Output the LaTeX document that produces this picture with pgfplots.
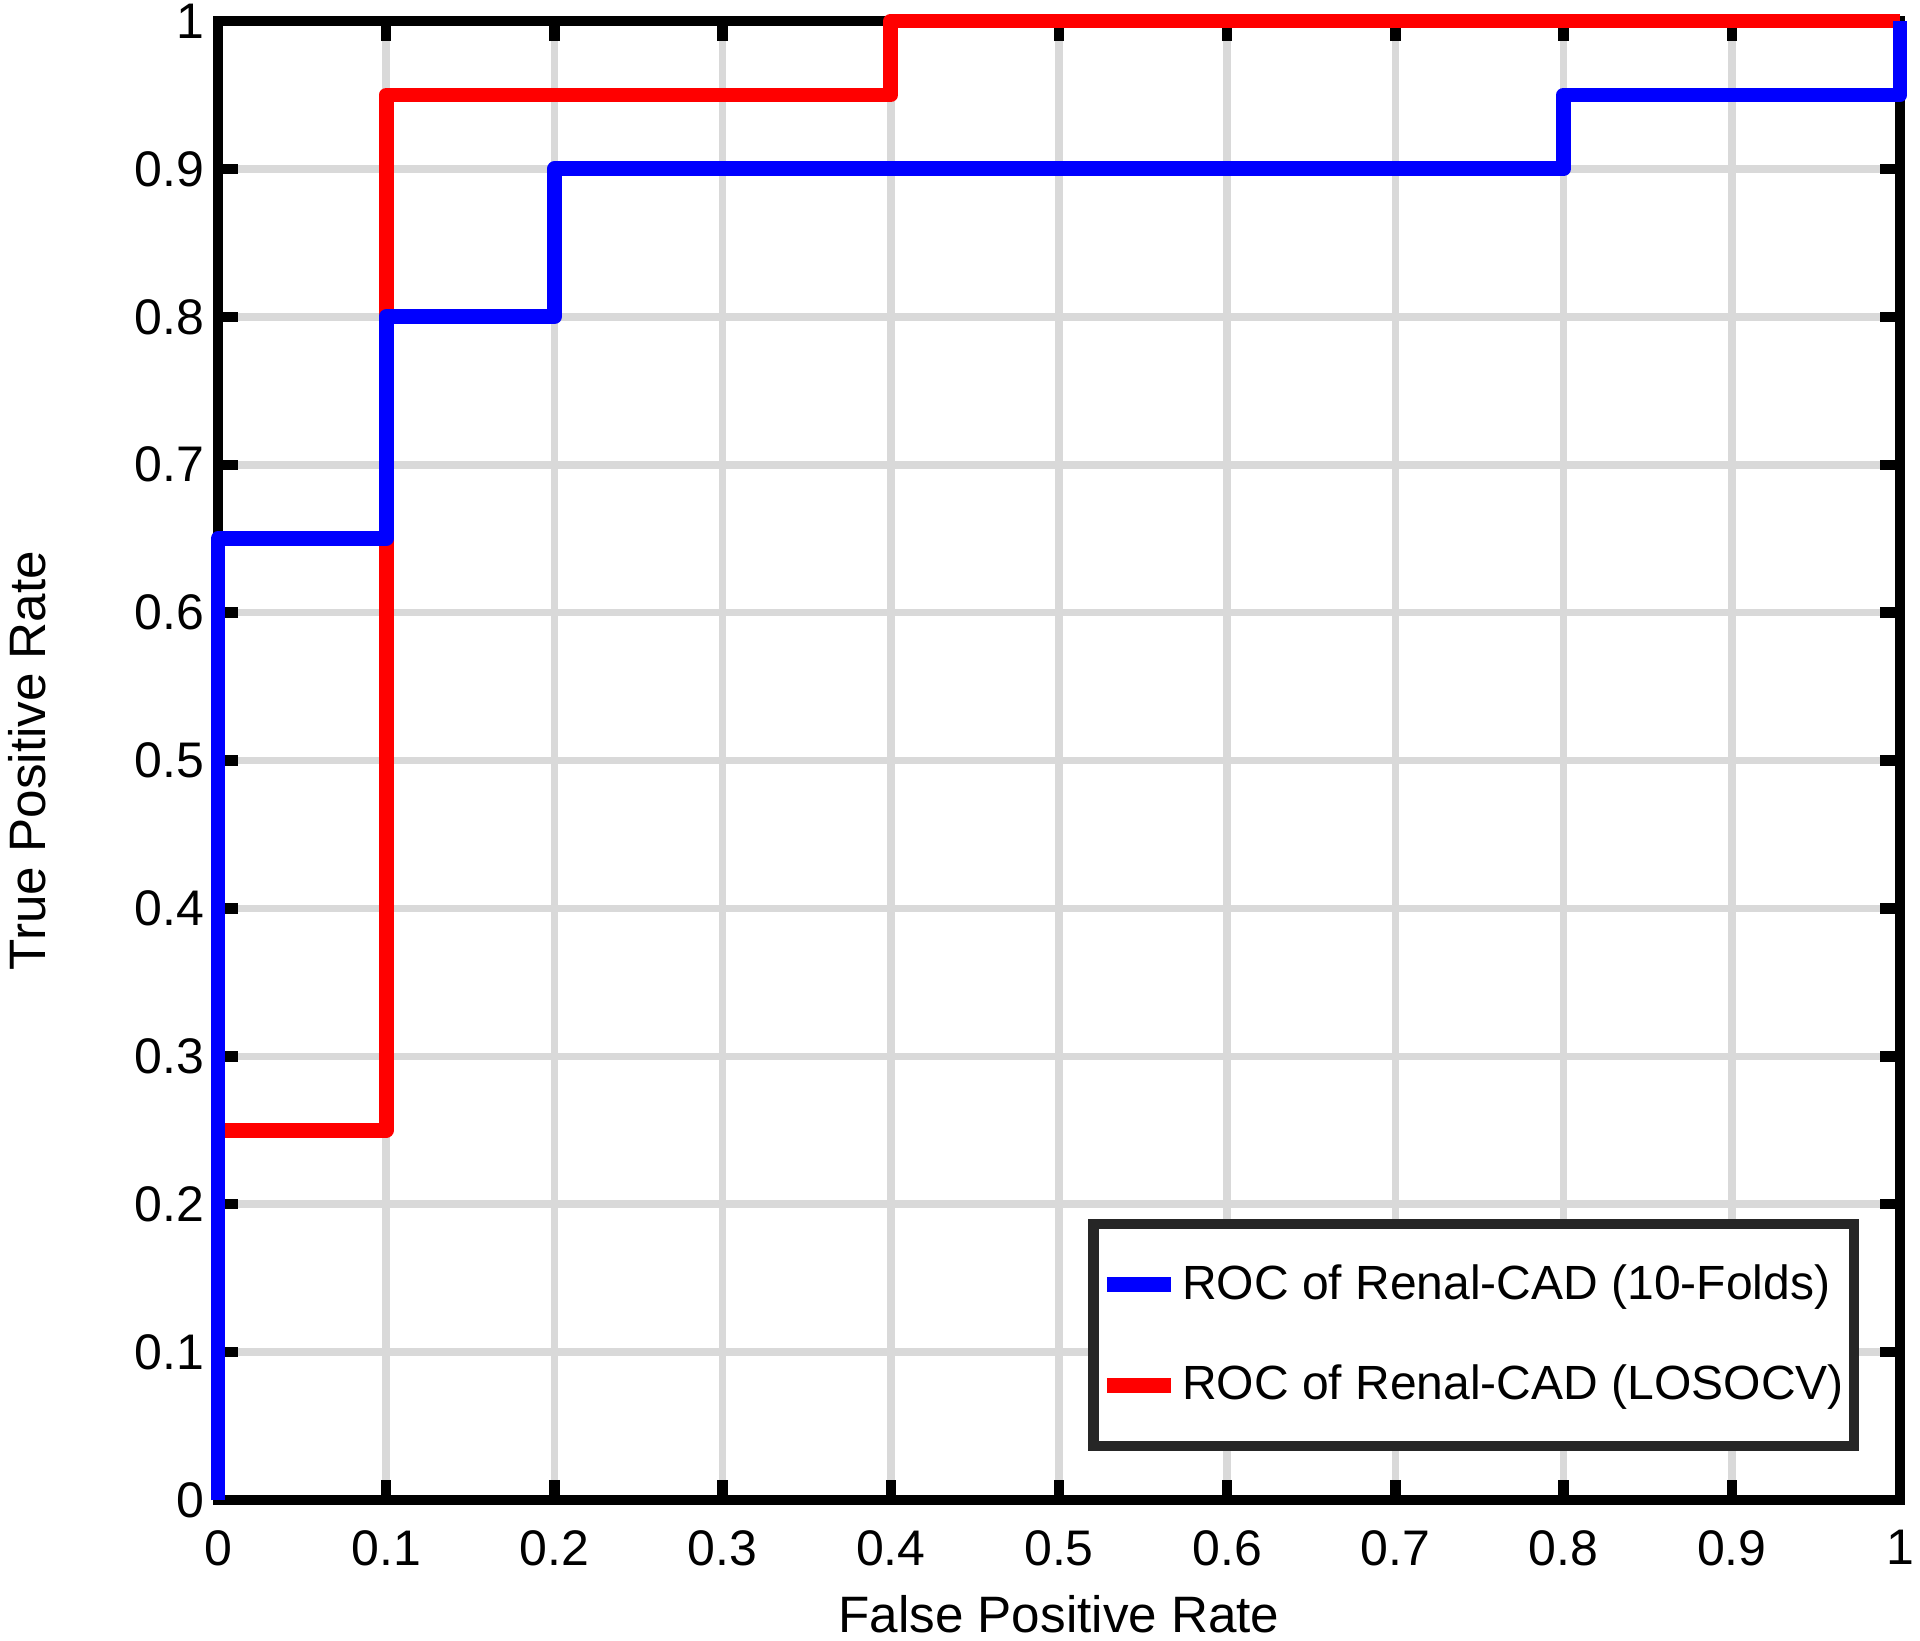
\documentclass[border=0pt]{standalone}
\usepackage{fontspec}
\setmainfont{Liberation Sans}
\usepackage{pgfplots}
\pgfplotsset{compat=1.18}
\definecolor{gridgray}{RGB}{217,217,217}
\definecolor{legframe}{RGB}{38,38,38}
\begin{document}
\begin{tikzpicture}
\begin{axis}[
  at={(0pt,0pt)}, anchor=south west,
  scale only axis, width=420.5pt, height=369.75pt,
  xmin=0, xmax=1, ymin=0, ymax=1,
  xtick={0,0.1,0.2,0.3,0.4,0.5,0.6,0.7,0.8,0.9,1},
  ytick={0,0.1,0.2,0.3,0.4,0.5,0.6,0.7,0.8,0.9,1},
  xticklabels={0,0.1,0.2,0.3,0.4,0.5,0.6,0.7,0.8,0.9,1},
  yticklabels={0,0.1,0.2,0.3,0.4,0.5,0.6,0.7,0.8,0.9,1},
  tick pos=both, ticklabel pos=left,
  tick align=inside,
  major tick length=5pt,
  tick style={black, line width=2.6pt},
  axis line style={black, line width=2.6pt},
  grid=major, grid style={gridgray, line width=1.9pt},
  ticklabel style={font=\fontsize{12.5}{14}\selectfont},
  xticklabel style={yshift=-4pt},
  xlabel={False Positive Rate}, ylabel={True Positive Rate},
  label style={font=\fontsize{12.8}{15}\selectfont},
  xlabel style={at={(axis description cs:0.5,-0.0771)}, anchor=center},
  ylabel style={at={(axis description cs:-0.1136,0.5)}, anchor=center},
  clip=false,
  reverse legend,
  legend cell align=left,
  legend style={at={(axis description cs:0.9756,0.0331)}, anchor=south east,
    draw=legframe, line width=2.6pt, fill=white,
    font=\fontsize{12}{14}\selectfont,
    inner xsep=1.5pt, inner ysep=8pt, row sep=11pt,
    nodes={inner xsep=1pt}},
  legend image code/.code={\draw[#1] (0pt,0pt) -- (16pt,0pt);},
]
\addplot[red, line width=3.7pt, line join=round] coordinates {
  (0,0) (0,0.25) (0.1,0.25) (0.1,0.95) (0.4,0.95) (0.4,1) (1,1)};
\addlegendentry{ROC of Renal-CAD (LOSOCV)}
\addplot[blue, line width=3.7pt, line join=round] coordinates {
  (0,0) (0,0.65) (0.1,0.65) (0.1,0.8) (0.2,0.8) (0.2,0.9) (0.8,0.9) (0.8,0.95) (1,0.95) (1,1)};
\addlegendentry{ROC of Renal-CAD (10-Folds)}
\end{axis}
\pgfresetboundingbox
\path[use as bounding box] (-54.5pt,-35.25pt) rectangle (425.5pt,375pt);
\end{tikzpicture}
\end{document}
